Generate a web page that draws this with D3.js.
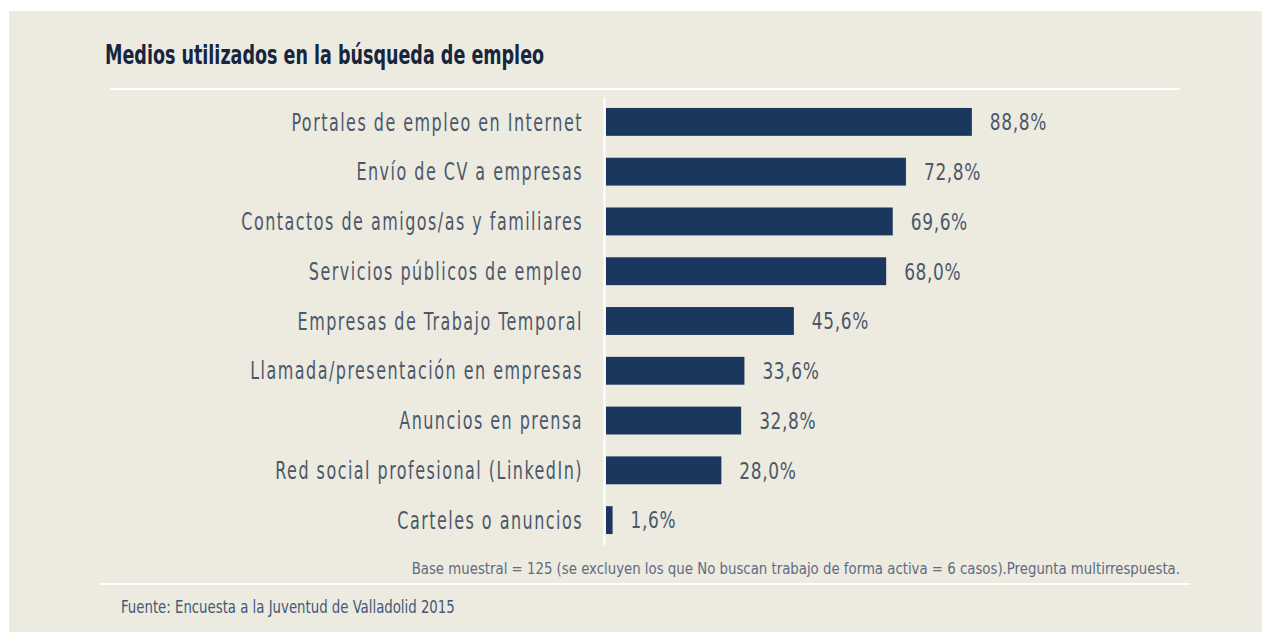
<!DOCTYPE html>
<html>
<head>
<meta charset="utf-8">
<script src="https://cdn.jsdelivr.net/npm/d3@7"></script>
<style>
  html, body { margin: 0; padding: 0; background: #ffffff; }
  svg { display: block; }
  .lbl { font-family: "DejaVu Sans Condensed", "Liberation Sans Narrow", sans-serif; }
</style>
</head>
<body>
<div id="chart"></div>
<script>
// data
var categories = [
  "Portales de empleo en Internet",
  "Envío de CV a empresas",
  "Contactos de amigos/as y familiares",
  "Servicios públicos de empleo",
  "Empresas de Trabajo Temporal",
  "Llamada/presentación en empresas",
  "Anuncios en prensa",
  "Red social profesional (LinkedIn)",
  "Carteles o anuncios"
];
var values = [88.8, 72.8, 69.6, 68.0, 45.6, 33.6, 32.8, 28.0, 1.6];

var title = "Medios utilizados en la búsqueda de empleo";
var note = "Base muestral = 125 (se excluyen los que No buscan trabajo de forma activa = 6 casos).Pregunta multirrespuesta.";
var source = "Fuente: Encuesta a la Juventud de Valladolid 2015";

var W = 1262, H = 632;
var svg = d3.select("#chart").append("svg").attr("width", W).attr("height", H);

// narrow the installed condensed font to the look of the original
function squeeze(sel, sx) {
  sel.attr("transform", function() {
    var t = d3.select(this);
    var tx = +t.attr("x"), ty = +t.attr("y");
    t.attr("x", 0).attr("y", 0);
    return "translate(" + tx + "," + ty + ") scale(" + sx + ",1)";
  });
}

// panel
svg.append("rect").attr("x", 9).attr("y", 11).attr("width", W - 9).attr("height", H - 11)
  .attr("fill", "#edeadf");

svg.append("text").attr("class", "lbl")
  .attr("x", 105).attr("y", 64)
  .attr("font-size", 26).attr("font-weight", "bold")
  .attr("fill", "#16263f")
  .text(title)
  .call(squeeze, 0.75);

// top & bottom rules
svg.append("rect").attr("x", 110).attr("y", 88).attr("width", 1070).attr("height", 2).attr("fill", "#ffffff");
svg.append("rect").attr("x", 100).attr("y", 583).attr("width", 1090).attr("height", 2).attr("fill", "#ffffff");

var x = d3.scaleLinear().domain([0, 100]).range([606, 1018]);
var y = d3.scaleBand().domain(categories).range([97, 545]).paddingInner(0.44).paddingOuter(0.22);

var fmt = function(v) { return d3.format(".1f")(v).replace(".", ",") + "%"; };

svg.append("g").selectAll("rect").data(values).enter().append("rect")
  .attr("x", x(0))
  .attr("y", function(d, i) { return y(categories[i]); })
  .attr("width", function(d) { return x(d) - x(0); })
  .attr("height", y.bandwidth())
  .attr("fill", "#1a375e");

// axis line
svg.append("rect").attr("x", 603.5).attr("y", 97).attr("width", 2).attr("height", 448).attr("fill", "#ffffff");

svg.append("g").selectAll("text").data(categories).enter().append("text")
  .attr("class", "lbl")
  .attr("x", 583)
  .attr("y", function(d) { return y(d) + y.bandwidth() / 2; })
  .attr("dy", "0.36em")
  .attr("text-anchor", "end")
  .attr("font-size", 24)
  .attr("letter-spacing", "2px")
  .attr("fill", "#4b586b")
  .text(function(d) { return d; })
  .call(squeeze, 0.74);

svg.append("g").selectAll("text").data(values).enter().append("text")
  .attr("class", "lbl")
  .attr("x", function(d) { return x(d) + 18; })
  .attr("y", function(d, i) { return y(categories[i]) + y.bandwidth() / 2; })
  .attr("dy", "0.36em")
  .attr("font-size", 23)
  .attr("letter-spacing", "0.8px")
  .attr("fill", "#4b586b")
  .text(fmt)
  .call(squeeze, 0.82);

svg.append("text").attr("class", "lbl")
  .attr("x", 1180).attr("y", 574)
  .attr("text-anchor", "end")
  .attr("font-size", 16)
  .attr("fill", "#5d6c82")
  .text(note)
  .call(squeeze, 0.925);

svg.append("text").attr("class", "lbl")
  .attr("x", 121).attr("y", 613)
  .attr("font-size", 17)
  .attr("fill", "#44597a")
  .text(source)
  .call(squeeze, 0.87);
</script>
</body>
</html>
